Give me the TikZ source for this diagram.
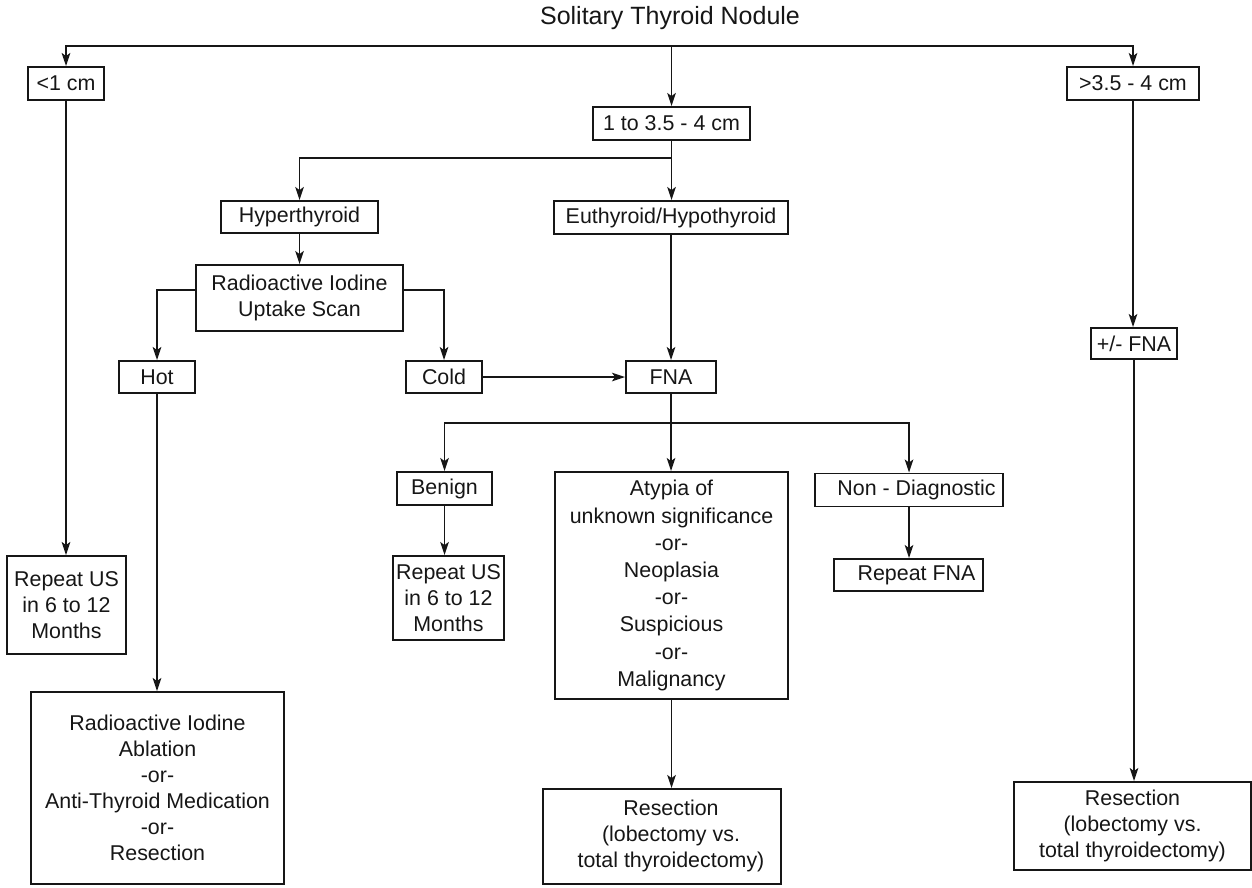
\documentclass[tikz,border=0pt]{standalone}
\usepackage{fontspec}
\setmainfont{Liberation Sans}
\usetikzlibrary{arrows.meta}

\definecolor{ink}{HTML}{161616}

\tikzset{
  box/.style={draw=ink, line width=1.9pt, inner sep=0pt, align=center,
              text=ink, minimum width=#1},
  box/.default=60pt,
  arr/.style={draw=ink, line width=1.9pt,
              -{Stealth[length=13pt,width=8.5pt,inset=3pt]}},
}

\begin{document}
\begin{tikzpicture}[x=1pt, y=-1pt, font=\fontsize{21.4}{26}\selectfont]
\useasboundingbox (0,0) rectangle (1252,887);

% title
\node[text=ink, font=\fontsize{25}{30}\selectfont] (title) at (670,18) {Solitary Thyroid Nodule};

% size branches
\node[box=76pt,  minimum height=33pt] (small) at (66,83.5)    {<1 cm};
\node[box=132pt, minimum height=33pt] (large) at (1133,83.5)  {>3.5 - 4 cm};
\node[box=157pt, minimum height=33pt] (mid)   at (671.5,123.5) {1 to 3.5 - 4 cm};

% thyroid function
\node[box=157pt, minimum height=32pt] (hyper) at (299.5,217) {Hyperthyroid};
\node[box=234pt, minimum height=33pt] (euth)  at (671,217.5) {Euthyroid/Hypothyroid};

% uptake scan
\node[box=207pt, minimum height=66pt] (rai) at (299.5,298) {Radioactive Iodine\\Uptake Scan};
\node[box=76pt, minimum height=32pt] (hot)  at (157,377) {Hot};
\node[box=76pt, minimum height=32pt] (cold) at (444,377) {Cold};
\node[box=90pt, minimum height=32pt] (fna)  at (671,377) {FNA};

% FNA results
\node[box=95pt,  minimum height=33pt]  (benign)  at (444.5,488.5) {Benign};
\node[box=233pt, minimum height=227pt, font=\fontsize{21.4}{27.2}\selectfont] (atypia) at (671.5,585.5)
  {Atypia of\\unknown significance\\-or-\\Neoplasia\\-or-\\Suspicious\\-or-\\Malignancy};
\node[box=188pt, minimum height=33pt]  (nondiag) at (909,490) {\hspace*{15pt}Non - Diagnostic};
\node[box=149pt, minimum height=32pt]  (repfna)  at (908.5,575) {\hspace*{16pt}Repeat FNA};

% follow-up
\node[box=119pt, minimum height=98pt] (usleft) at (66.5,605) {Repeat US\\in 6 to 12\\Months};
\node[box=111pt, minimum height=84pt] (usmid)  at (448.5,598) {Repeat US\\in 6 to 12\\Months};
\node[box=253pt, minimum height=192pt] (hotres) at (157.5,788)
  {Radioactive Iodine\\Ablation\\-or-\\Anti-Thyroid Medication\\-or-\\Resection};
\node[box=238pt, minimum height=95pt] (resmid) at (662,836.5)
  {\begin{tabular}{@{\hspace{18pt}}c@{}}Resection\\(lobectomy vs.\\total thyroidectomy)\end{tabular}};

% large nodule path
\node[box=86pt,  minimum height=31pt] (fnaplus)  at (1134,343.5) {+/- FNA};
\node[box=237pt, minimum height=88pt] (resright) at (1132.5,826)
  {Resection\\(lobectomy vs.\\total thyroidectomy)};

% junction points
\coordinate (split) at (mid.north |- 0,46);
\coordinate (j1) at (mid.south |- 0,158);
\coordinate (j2) at (fna.south |- 0,423);

% connectors
\draw[arr] (split) -| (small.north);
\draw[arr] (split) -| (large.north);
\draw[arr] (split) -- (mid.north);

\draw[arr] (small.south) -- (small.south |- usleft.north);
\draw[arr] (large.south) -- (large.south |- fnaplus.north);
\draw[arr] (fnaplus.south) -- (fnaplus.south |- resright.north);

\draw[arr] (mid.south) -- (mid.south |- euth.north);
\draw[arr] (j1) -| (hyper.north);

\draw[arr] (hyper.south) -- (rai.north);
\draw[arr] ([yshift=8pt]rai.west) -| (hot.north);
\draw[arr] ([yshift=8pt]rai.east) -| (cold.north);
\draw[arr] (cold.east) -- (fna.west);
\draw[arr] (euth.south) -- (euth.south |- fna.north);

\draw[arr] (fna.south) -- (fna.south |- atypia.north);
\draw[arr] (j2) -| (benign.north);
\draw[arr] (j2) -| (nondiag.north);

\draw[arr] (benign.south) -- (benign.south |- usmid.north);
\draw[arr] (nondiag.south) -- (nondiag.south |- repfna.north);
\draw[arr] (hot.south) -- (hot.south |- hotres.north);
\draw[arr] (atypia.south) -- (atypia.south |- resmid.north);
\end{tikzpicture}
\end{document}
